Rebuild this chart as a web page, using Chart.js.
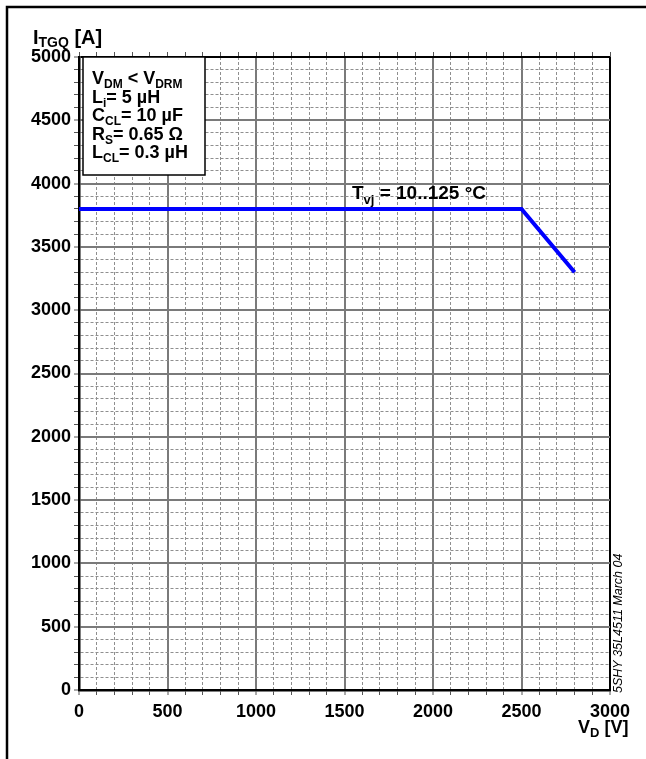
<!DOCTYPE html>
<html><head><meta charset="utf-8">
<script src="https://cdn.jsdelivr.net/npm/chart.js@4.4.1/dist/chart.umd.min.js"></script>
<style>html,body{margin:0;padding:0;background:#fff;}canvas{display:block;}</style>
</head><body>
<canvas id="c" width="646" height="759"></canvas>
<script>
// ---- data ----
const vD = [0, 2500, 2800];            // V_D [V]
const iTGQ = [3800, 3800, 3300];       // I_TGQ [A]
const xTickLabels = [0, 500, 1000, 1500, 2000, 2500, 3000];
const yTickLabels = [0, 500, 1000, 1500, 2000, 2500, 3000, 3500, 4000, 4500, 5000];
const xMinorStep = 100;
const yMinorStep = 100;
const curveLabel = [['T', 0], ['vj', 1], [' = 10..125 °C', 0]];
const curveLabelAt = [1542, 3878];
const conditions = [
  [['V', 0], ['DM', 1], [' < V', 0], ['DRM', 1]],
  [['L', 0], ['i', 1], ['= 5 µH', 0]],
  [['C', 0], ['CL', 1], ['= 10 µF', 0]],
  [['R', 0], ['S', 1], ['= 0.65 Ω', 0]],
  [['L', 0], ['CL', 1], ['= 0.3 µH', 0]]
];
const yTitle = [['I', 0], ['TGQ', 1], [' [A]', 0]];
const xTitle = [['V', 0], ['D', 1], [' [V]', 0]];
const docCode = '5SHY 35L4511 March 04';

const FONT = '"Liberation Sans", Arial, sans-serif';

function drawRich(ctx, parts, x, y, size, subSize, drop) {
  for (const [t, sub] of parts) {
    ctx.font = 'bold ' + (sub ? subSize : size) + 'px ' + FONT;
    ctx.fillText(t, x, sub ? y + drop : y);
    x += ctx.measureText(t).width;
  }
  return x;
}

const deco = {
  id: 'deco',
  beforeDraw(chart) {
    const ctx = chart.ctx;
    ctx.save();
    ctx.fillStyle = '#fff';
    ctx.fillRect(0, 0, chart.width, chart.height);
    ctx.strokeStyle = '#000';
    ctx.lineWidth = 2.5;
    ctx.beginPath();
    ctx.moveTo(7, chart.height);
    ctx.lineTo(7, 7);
    ctx.lineTo(chart.width, 7);
    ctx.stroke();
    ctx.restore();
  },
  afterDraw(chart) {
    const ctx = chart.ctx;
    const a = chart.chartArea;
    const sx = chart.scales.x, sy = chart.scales.y;
    ctx.save();
    ctx.fillStyle = '#000';
    ctx.textAlign = 'left';
    ctx.textBaseline = 'alphabetic';
    // conditions box
    const bx = a.left + 4, by = a.top, bw = 122, bh = 118;
    ctx.fillStyle = '#fff';
    ctx.fillRect(bx, by, bw, bh);
    ctx.strokeStyle = '#000';
    ctx.lineWidth = 1.5;
    ctx.strokeRect(bx, by, bw, bh);
    ctx.fillStyle = '#000';
    conditions.forEach((row, i) => {
      drawRich(ctx, row, bx + 9, by + 27 + i * 18.5, 18, 12, 4);
    });
    // curve label
    drawRich(ctx, curveLabel, sx.getPixelForValue(curveLabelAt[0]), sy.getPixelForValue(curveLabelAt[1]), 19, 13, 5);
    // axis titles
    drawRich(ctx, yTitle, 33, 44, 20, 14, 3);
    drawRich(ctx, xTitle, 578, 733, 18, 13, 4);
    // document code (rotated)
    ctx.translate(a.right + 12, a.bottom + 3);
    ctx.rotate(-Math.PI / 2);
    ctx.font = 'italic 12.5px ' + FONT;
    ctx.fillText(docCode, 0, 0);
    ctx.restore();
  }
};

const isMajor = (v, list) => list.includes(v);
const gridColor = (list, maxV) => c => {
  if (!c.tick) return '#808080';
  const v = c.tick.value;
  if (v === maxV) return '#000';
  return isMajor(v, list) ? '#7a7a7a' : '#8f8f8f';
};
const gridWidth = (list, maxV) => c => {
  if (!c.tick) return 1;
  const v = c.tick.value;
  if (v === maxV) return 2;
  return isMajor(v, list) ? 2 : 1;
};
const gridDash = list => c => (c.tick && !isMajor(c.tick.value, list)) ? [3, 2] : [];

new Chart(document.getElementById('c'), {
  type: 'line',
  data: {
    datasets: [{
      data: vD.map((x, i) => ({ x: x, y: iTGQ[i] })),
      borderColor: '#0000ff',
      borderWidth: 4,
      pointRadius: 0,
      tension: 0,
      fill: false
    }]
  },
  options: {
    responsive: false,
    animation: false,
    devicePixelRatio: 1,
    layout: { padding: { left: 0, top: 57, right: 36, bottom: 0 } },
    plugins: { legend: { display: false }, tooltip: { enabled: false }, title: { display: false } },
    scales: {
      x: {
        type: 'linear', position: 'bottom', min: 0, max: 3000,
        afterFit: s => { s.height = 69; },
        ticks: {
          stepSize: xMinorStep, autoSkip: false, maxRotation: 0, padding: 6,
          color: '#000', font: { family: FONT, size: 18, weight: 'bold' },
          callback: v => xTickLabels.includes(v) ? String(v) : ''
        },
        grid: {
          color: gridColor(xTickLabels, 3000), lineWidth: gridWidth(xTickLabels, 3000),
          tickLength: 5, tickColor: '#555', tickWidth: 1
        },
        border: { display: true, color: '#000', width: 2.5, dash: gridDash(xTickLabels) }
      },
      xTop: {
        type: 'linear', position: 'top', min: 0, max: 3000,
        afterFit: s => { s.height = 0; },
        ticks: { stepSize: xMinorStep, autoSkip: false, display: false },
        grid: { drawOnChartArea: false, drawTicks: true, tickLength: 5, tickColor: '#555', tickWidth: 1 },
        border: { display: false }
      },
      y: {
        type: 'linear', position: 'left', min: 0, max: 5000,
        afterFit: s => { s.width = 79; },
        ticks: {
          stepSize: yMinorStep, autoSkip: false, padding: 3,
          color: '#000', font: { family: FONT, size: 18, weight: 'bold' },
          callback: v => yTickLabels.includes(v) ? String(v) : ''
        },
        grid: {
          color: gridColor(yTickLabels, 5000), lineWidth: gridWidth(yTickLabels, 5000),
          tickLength: 5, tickColor: '#555', tickWidth: 1
        },
        border: { display: true, color: '#000', width: 2.5, dash: gridDash(yTickLabels) }
      }
    }
  },
  plugins: [deco]
});
</script>
</body></html>
